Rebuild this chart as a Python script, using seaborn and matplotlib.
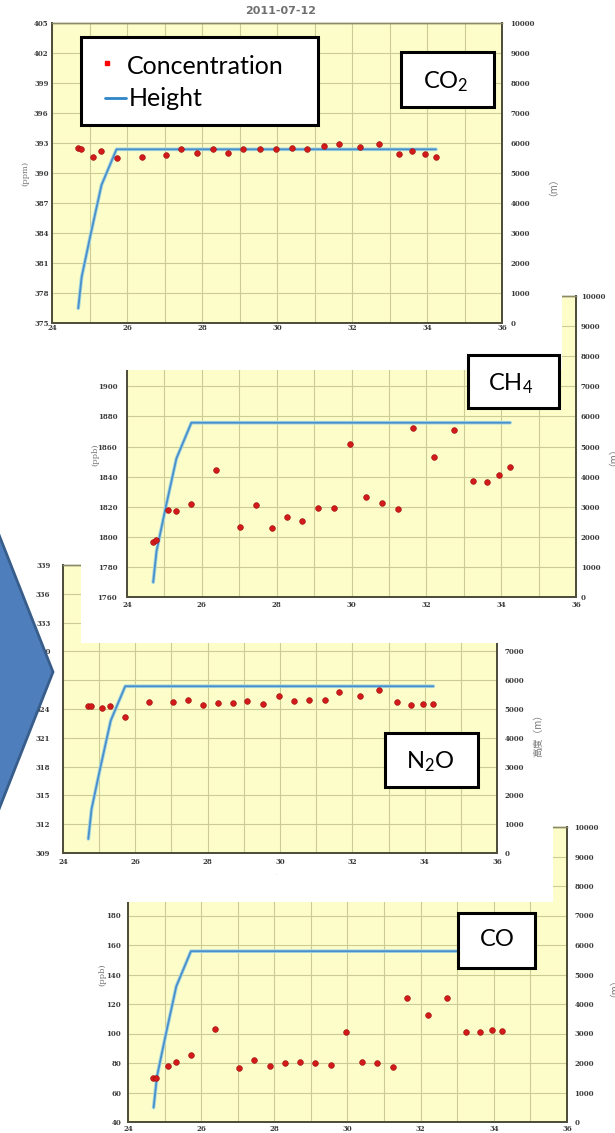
import matplotlib
matplotlib.use('Agg')
import matplotlib.pyplot as plt
import seaborn as sns
import numpy as np
import pandas as pd
from matplotlib.patches import Rectangle, Polygon
from matplotlib.lines import Line2D
from matplotlib.transforms import Bbox, TransformedBbox
import matplotlib.patheffects as pe

# ---------------- data ----------------
time_h = [24.69, 24.77, 25.09, 25.31, 25.72, 26.39, 27.03, 27.45, 27.87, 28.28,
          28.69, 29.10, 29.54, 29.97, 30.40, 30.81, 31.24, 31.64, 32.21, 32.73,
          33.24, 33.61, 33.95, 34.23]
co2_ppm = [392.5, 392.4, 391.6, 392.2, 391.5, 391.6, 391.8, 392.4, 392.0, 392.4,
           392.0, 392.4, 392.4, 392.4, 392.5, 392.4, 392.7, 392.9, 392.6, 392.9,
           391.9, 392.2, 391.9, 391.6]
ch4_ppb = [1796.7, 1798.2, 1818.0, 1817.0, 1822.0, 1844.7, 1806.4, 1821.3, 1806.0, 1813.0,
           1810.7, 1819.3, 1819.3, 1861.8, 1826.7, 1822.4, 1818.7, 1872.4, 1853.1, 1871.1,
           1837.3, 1836.4, 1841.1, 1846.2]
n2o_ppb = [324.3, 324.3, 324.1, 324.3, 323.2, 324.7, 324.7, 324.9, 324.4, 324.6,
           324.6, 324.8, 324.5, 325.4, 324.8, 324.9, 324.9, 325.75, 325.4, 326.0,
           324.7, 324.4, 324.5, 324.5]
co_ppb = [69.7, 69.7, 77.9, 81.0, 85.4, 103.0, 76.7, 82.2, 77.9, 79.9,
          80.6, 79.9, 78.5, 101.0, 81.0, 79.7, 77.4, 124.1, 112.6, 124.4,
          100.8, 101.2, 102.1, 101.7]
height_time = [24.70, 24.79, 25.03, 25.32, 25.72, 34.24]
height_m = [490, 1530, 2950, 4600, 5790, 5790]

x_ticks = [24, 26, 28, 30, 32, 34, 36]
height_ticks = list(range(0, 10001, 1000))
title_text = '2011-07-12'
legend_labels = ['Concentration', 'Height']

# ---------------- style ----------------
sns.set_theme(style='white')
plt.rcParams['font.family'] = ['DejaVu Serif', 'Noto Sans CJK SC']
plt.rcParams['mathtext.default'] = 'regular'

W, H = 615, 1133
fig = plt.figure(figsize=(W / 100, H / 100), dpi=100)
fig.patch.set_facecolor('white')

YELLOW = '#FDFDC9'
GRID = '#CBCB93'
SPINE = '#4f4f3c'
RED = '#D21A1A'
BLUE = '#4A8FCC'
TICKC = '#3a3a3a'
LABC = '#777777'
BOXFONT = ['Lato', 'DejaVu Sans']
CJK = ['Noto Sans CJK SC', 'DejaVu Sans']


def fx(px):
    return px / W


def fy(py):
    return 1 - py / H


def frect(x0, y0, x1, y1):
    return [fx(x0), fy(y1), (x1 - x0) / W, (y1 - y0) / H]


def white_bg(x0, y0, x1, y1, z):
    fig.add_artist(Rectangle((fx(x0), fy(y1)), (x1 - x0) / W, (y1 - y0) / H,
                             transform=fig.transFigure, facecolor='white',
                             edgecolor='none', zorder=z))


def panel(box, ylim, ystep, values, z, lpad, rpad, xpad):
    # base axes: yellow background, grid, height line (right axis)
    ax = fig.add_axes(frect(*box))
    ax.set_zorder(z)
    ax.set_facecolor(YELLOW)
    ax2 = ax.twinx()
    ax2.set_zorder(z + 0.1)
    ax.yaxis.tick_right()
    ax.yaxis.set_label_position('right')
    ax2.yaxis.tick_left()
    ax2.yaxis.set_label_position('left')

    hdf = pd.DataFrame({'t': height_time, 'h': height_m})
    sns.lineplot(data=hdf, x='t', y='h', ax=ax, color=BLUE, lw=1.3, sort=False,
                 estimator=None,
                 path_effects=[pe.Stroke(linewidth=2.6, foreground='#A6D8DE'), pe.Normal()])
    ax.set_xlim(24, 36)
    ax.set_ylim(0, 10000)
    ax.set_yticks(height_ticks)
    ax.set_xticks(x_ticks)
    ax.set_xticks(range(24, 37), minor=True)
    ax.grid(which='both', axis='x', color=GRID, lw=0.8)
    ax.grid(which='major', axis='y', color=GRID, lw=0.8)
    ax.set_axisbelow(True)
    ax.set_xlabel('')
    ax.set_ylabel('')
    ax.tick_params(axis='y', length=0, labelsize=5, pad=rpad, labelcolor=TICKC,
                   left=False, labelleft=False, right=True, labelright=True)
    ax.tick_params(axis='x', which='both', length=0, labelsize=5, pad=xpad, labelcolor=TICKC)
    for lbl in ax.get_xticklabels() + ax.get_yticklabels():
        lbl.set_fontweight('bold')

    # overlay axes: concentration dots (left axis), drawn above the line
    df = pd.DataFrame({'t': time_h, 'c': values})
    sns.scatterplot(data=df, x='t', y='c', ax=ax2, color=RED, s=17,
                    edgecolor='#9a0c0c', linewidth=0.4, zorder=3, legend=False)
    ax2.set_xlim(24, 36)
    ax2.set_ylim(*ylim)
    ax2.set_yticks(np.arange(ylim[0], ylim[1] + 0.01, ystep))
    ax2.set_ylabel('')
    ax2.set_xlabel('')
    ax2.grid(False)
    ax2.tick_params(axis='y', length=0, labelsize=5, pad=lpad, labelcolor=TICKC,
                    left=True, labelleft=True, right=False, labelright=False)
    for lbl in ax2.get_yticklabels():
        lbl.set_fontweight('bold')
    for a in (ax, ax2):
        for s in a.spines.values():
            s.set_color(SPINE)
            s.set_linewidth(1.4)
        a.spines['top'].set_color('#8a8a66')
        a.spines['top'].set_linewidth(1.0)
    return ax, ax2


# ---------------- panels (bottom to top) ----------------
panel((128, 827, 567, 1122), (40, 240), 20, co_ppb, 1, 5, 5.5, 2.5)      # CO
white_bg(0, 530, 553, 902, 2)
panel((63, 565, 497, 853), (309, 339), 3, n2o_ppb, 3, 9, 5.5, 3.5)      # N2O
white_bg(81, 280, 615, 643, 4)
panel((127, 296, 576, 597), (1760, 1960), 20, ch4_ppb, 5, 7, 3.5, 3)    # CH4
white_bg(0, 0, 562, 370, 6)
panel((52, 23, 502, 323), (375, 405), 3, co2_ppm, 7, 2.5, 6, 0.8)       # CO2

# axis titles
fig.text(fx(281), fy(11), title_text, ha='center', va='center', fontsize=8,
         color='#707070', family=['DejaVu Sans'], fontweight='bold', zorder=8)
fig.text(fx(25), fy(173), '(ppm)', rotation=90, ha='center', va='center',
         fontsize=6, color=LABC, zorder=8)
fig.text(fx(548), fy(182), '（m）', rotation=90, ha='center', va='center',
         fontsize=7, color=LABC, family=CJK, zorder=8)
fig.text(fx(95), fy(455), '(ppb)', rotation=90, ha='center', va='center',
         fontsize=6, color=LABC, zorder=5.5)
fig.text(fx(608), fy(452), '（m）', rotation=90, ha='center', va='center',
         fontsize=7, color=LABC, family=CJK, zorder=5.5)
fig.text(fx(33), fy(700), '(ppb)', rotation=90, ha='center', va='center',
         fontsize=6, color=LABC, zorder=3.5)
fig.text(fx(538), fy(733), '高度（m）', rotation=90, ha='center', va='center',
         fontsize=7, color=LABC, family=CJK, zorder=3.5)
fig.text(fx(102), fy(975), '(ppb)', rotation=90, ha='center', va='center',
         fontsize=6, color=LABC, zorder=1.5)
fig.text(fx(609), fy(983), '（m）', rotation=90, ha='center', va='center',
         fontsize=7, color=LABC, family=CJK, zorder=1.5)
xl = fig.text(fx(283), fy(880), '时间 (h)', ha='center', va='center', fontsize=8,
              color='#999999', family=CJK, zorder=3.5)
xl.set_clip_on(True)
xl.set_clip_box(TransformedBbox(Bbox.from_extents(0, fy(875), 1, 1), fig.transFigure))

# chevron
fig.add_artist(Polygon([(fx(-10), fy(512)), (fx(53), fy(672)), (fx(-10), fy(832))],
                       closed=True, transform=fig.transFigure, facecolor='#4F7EBD',
                       edgecolor='#385D8A', lw=2, zorder=20))


# label boxes
def label_box(x0, y0, x1, y1, text, cx, cy):
    fig.add_artist(Rectangle((fx(x0), fy(y1)), (x1 - x0) / W, (y1 - y0) / H,
                             transform=fig.transFigure, facecolor='white',
                             edgecolor='black', lw=2.2, zorder=21))
    fig.text(fx(cx), fy(cy), text, ha='center', va='center', fontsize=17,
             family=BOXFONT, color='black', zorder=22)


label_box(401, 52, 494, 107, 'CO$_2$', 446, 82)
label_box(468, 355, 559, 408, 'CH$_4$', 511, 384)
label_box(385, 733, 478, 787, 'N$_2$O', 430, 762)
label_box(458, 913, 535, 968, 'CO', 497, 940)

# legend box
fig.add_artist(Rectangle((fx(81), fy(125)), 237 / W, 88 / H, transform=fig.transFigure,
                         facecolor='white', edgecolor='black', lw=2.2, zorder=21))
fig.add_artist(Line2D([fx(107)], [fy(63)], marker='s', markersize=3, color='#FF0000',
                      lw=0, transform=fig.transFigure, zorder=22))
fig.add_artist(Line2D([fx(105), fx(126)], [fy(98), fy(98)], color='#2E86C8', lw=2,
                      transform=fig.transFigure, zorder=22))
fig.text(fx(127), fy(66), legend_labels[0], ha='left', va='center', fontsize=18,
         family=BOXFONT, color='black', zorder=22)
fig.text(fx(129), fy(99), legend_labels[1], ha='left', va='center', fontsize=18,
         family=BOXFONT, color='black', zorder=22)

fig.savefig('out.png', dpi=100)
